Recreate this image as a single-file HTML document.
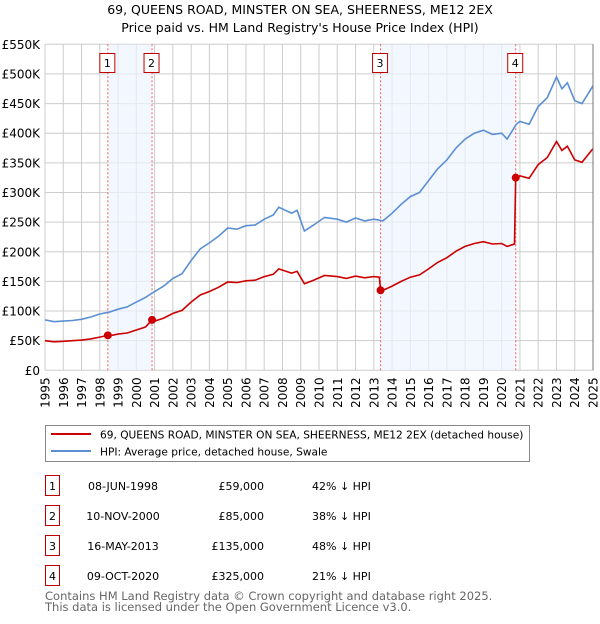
<!DOCTYPE html>
<html><head><meta charset="utf-8"><style>
body{margin:0;background:#fff;width:600px;height:620px;overflow:hidden;font-family:"DejaVu Sans","Liberation Sans",sans-serif}
svg text{font-family:"DejaVu Sans","Liberation Sans",sans-serif}
</style></head><body>
<svg id="c" width="600" height="620" xmlns="http://www.w3.org/2000/svg">
<text x="300" y="14" text-anchor="middle" font-size="12.5">69, QUEENS ROAD, MINSTER ON SEA, SHEERNESS, ME12 2EX</text>
<text x="300" y="32" text-anchor="middle" font-size="12.5">Price paid vs. HM Land Registry's House Price Index (HPI)</text>
<g id="grid"></g><g id="shade"></g><g id="lines"></g><g id="axes"></g>
<g>
<rect x="45.5" y="425.5" width="484" height="36" fill="#fff" stroke="#888"/>
<line x1="51" y1="434" x2="91" y2="434" stroke="#cc0000" stroke-width="2"/>
<text x="100" y="438.5" font-size="10.6">69, QUEENS ROAD, MINSTER ON SEA, SHEERNESS, ME12 2EX (detached house)</text>
<line x1="51" y1="451" x2="91" y2="451" stroke="#5b8fd4" stroke-width="2"/>
<text x="100" y="455.5" font-size="10.6">HPI: Average price, detached house, Swale</text>
</g>
<g id="table"></g>
<text x="45" y="600" font-size="11.5" fill="#666">Contains HM Land Registry data © Crown copyright and database right 2025.</text>
<text x="45" y="611" font-size="11.5" fill="#666">This data is licensed under the Open Government Licence v3.0.</text>
</svg>
<script>
const hpiDates=[1995,1995.5,1996,1996.5,1997,1997.5,1998,1998.5,1999,1999.5,2000,2000.5,2001,2001.5,2002,2002.5,2003,2003.5,2004,2004.5,2005,2005.5,2006,2006.5,2007,2007.5,2007.8,2008.5,2008.8,2009.2,2009.7,2010.3,2011,2011.5,2012,2012.5,2013,2013.5,2014,2014.5,2015,2015.5,2016,2016.5,2017,2017.5,2018,2018.5,2019,2019.5,2020,2020.3,2020.8,2021,2021.5,2022,2022.5,2023,2023.3,2023.6,2024,2024.4,2025];
const hpiValues=[85,82,83,84,86,90,95,98,103,107,115,123,133,142,155,163,185,205,215,226,240,238,244,245,255,262,275,265,270,235,245,258,255,250,257,252,255,252,265,280,293,300,320,340,355,375,390,400,405,398,400,390,415,420,415,445,460,495,475,485,455,450,480];
const ppDates=[1995,1995.5,1996,1996.5,1997,1997.5,1998,1998.44,1998.5,1999,1999.5,2000,2000.5,2000.86,2001,2001.5,2002,2002.5,2003,2003.5,2004,2004.5,2005,2005.5,2006,2006.5,2007,2007.5,2007.8,2008.5,2008.8,2009.2,2009.7,2010.3,2011,2011.5,2012,2012.5,2013,2013.3,2013.37,2013.5,2014,2014.5,2015,2015.5,2016,2016.5,2017,2017.5,2018,2018.5,2019,2019.5,2020,2020.3,2020.7,2020.77,2021,2021.5,2022,2022.5,2023,2023.3,2023.6,2024,2024.4,2025];
const ppValues=[50,48,49,50,51,53,56,59,58,61,63,68,73,85,83,88,96,101,115,127,133,140,149,148,151,152,158,162,171,164,167,146,152,160,158,155,159,156,158,157,135,135,142,150,157,161,171,182,190,201,209,214,217,213,214,209,213,325,328,324,347,359,386,371,378,355,351,374];
const saleLabels=["1","2","3","4"];
const saleDates=[1998.44,2000.86,2013.37,2020.77];
const salePrices=[59,85,135,325];
const saleDateText=["08-JUN-1998","10-NOV-2000","16-MAY-2013","09-OCT-2020"];
const salePriceText=["£59,000","£85,000","£135,000","£325,000"];
const saleHpiText=["42% ↓ HPI","38% ↓ HPI","48% ↓ HPI","21% ↓ HPI"];
const yTicks=[0,50,100,150,200,250,300,350,400,450,500,550];
const yTickLabels=["£0","£50K","£100K","£150K","£200K","£250K","£300K","£350K","£400K","£450K","£500K","£550K"];
const xTicks=[1995,1996,1997,1998,1999,2000,2001,2002,2003,2004,2005,2006,2007,2008,2009,2010,2011,2012,2013,2014,2015,2016,2017,2018,2019,2020,2021,2022,2023,2024,2025];

const X0=45,X1=593,Y0=370.3,Y1=44.3;
const x=v=>X0+(v-1995)/30*(X1-X0);
const y=v=>Y0-v/550*(Y0-Y1);
const NS="http://www.w3.org/2000/svg";
function mk(t,a,p){const e=document.createElementNS(NS,t);for(const k in a)e.setAttribute(k,a[k]);p.appendChild(e);return e;}
const grid=document.getElementById('grid'),shade=document.getElementById('shade'),lines=document.getElementById('lines'),axes=document.getElementById('axes'),table=document.getElementById('table');
yTicks.forEach((t,i)=>{
 const l=mk('line',{x1:X0,x2:X1,y1:y(t),y2:y(t),stroke:'#ccc'},grid);
 
 
 const tx=mk('text',{x:40,y:y(t)+4.5,'text-anchor':'end','font-size':'12'},axes);tx.textContent=yTickLabels[i];
 
 
});
xTicks.forEach(t=>{
 const l=mk('line',{x1:x(t),x2:x(t),y1:Y1,y2:Y0,stroke:'#ccc'},grid);
 
 
 const tx=mk('text',{x:0,y:0,'font-size':'12','text-anchor':'end',transform:`translate(${x(t)+4.5},${Y0+7}) rotate(-90)`},axes);tx.textContent=t;
 
 
});
mk('line',{x1:X1,x2:X1,y1:Y1,y2:Y0,stroke:'#777'},axes);
for(let i=0;i<saleDates.length;i+=2){
 const r=mk('rect',{x:x(saleDates[i]),y:Y1,width:x(saleDates[i+1])-x(saleDates[i]),height:Y0-Y1,fill:'#eef3fd',opacity:'0.7'},shade);
 
 
}
saleDates.forEach((d,i)=>{
 const l=mk('line',{x1:x(d),x2:x(d),y1:Y1,y2:Y0,stroke:'#f06060','stroke-dasharray':'2,2'},shade);
 
 
 const g=mk('g',{},axes);
 
 
 mk('rect',{x:x(d)-8,y:53.5,width:15,height:19,fill:'#fff',stroke:'#c00000'},g);
 const t=mk('text',{x:x(d)-0.5,y:67,'text-anchor':'middle','font-size':'11'},g);t.textContent=saleLabels[i];
});
function path(ds,vs,c,n){
 const p=mk('path',{d:ds.map((d,i)=>(i?'L':'M')+x(d).toFixed(1)+','+y(vs[i]).toFixed(1)).join(''),fill:'none',stroke:c,'stroke-width':'1.6'},lines);
 
 
}
path(hpiDates,hpiValues,'#5b8fd4','hpi-line');
path(ppDates,ppValues,'#cc0000','price-paid-line');
saleDates.forEach((d,i)=>{
 const c=mk('circle',{cx:x(d),cy:y(salePrices[i]),r:4,fill:'#cc0000'},lines);
 
 
 const ry=487+i*30;
 const g=mk('g',{},table);
 
 
 mk('rect',{x:45.5,y:ry-11.5,width:14,height:20,fill:'#fff',stroke:'#c00000'},g);
 const a=mk('text',{x:52.5,y:ry+3,'text-anchor':'middle','font-size':'11'},g);a.textContent=saleLabels[i];
 const b=mk('text',{x:123,y:ry+3,'text-anchor':'middle','font-size':'11'},g);b.textContent=saleDateText[i];
 const cc=mk('text',{x:264,y:ry+3,'text-anchor':'end','font-size':'11'},g);cc.textContent=salePriceText[i];
 const e=mk('text',{x:312,y:ry+3,'font-size':'11'},g);e.textContent=saleHpiText[i];
});
</script>
</body></html>
